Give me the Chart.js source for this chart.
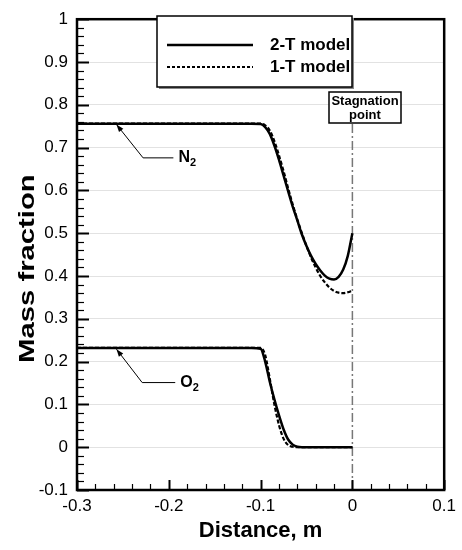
<!DOCTYPE html>
<html>
<head>
<meta charset="utf-8">
<script src="https://cdn.jsdelivr.net/npm/chart.js@4/dist/chart.umd.min.js"></script>
<style>
  html, body { margin: 0; padding: 0; background: #fff; }
  #wrap { width: 462px; height: 550px; }
</style>
</head>
<body>
<div id="wrap"><canvas id="grafico" width="462" height="550"></canvas></div>
<script>
// valores
const distance = [-0.3, -0.11, -0.1, -0.095, -0.09, -0.085, -0.08, -0.075, -0.07, -0.065, -0.06, -0.055,
                  -0.05, -0.045, -0.04, -0.035, -0.03, -0.025, -0.02, -0.015, -0.01, -0.005, 0];
const n2TwoT = [0.756, 0.756, 0.755, 0.748, 0.732, 0.705, 0.672, 0.635, 0.598, 0.562, 0.53, 0.497,
                0.47, 0.447, 0.428, 0.413, 0.401, 0.394, 0.392, 0.398, 0.415, 0.447, 0.5];
const n2OneT = [0.756, 0.756, 0.756, 0.752, 0.74, 0.715, 0.682, 0.645, 0.605, 0.567, 0.532, 0.5,
                0.47, 0.443, 0.42, 0.4, 0.385, 0.373, 0.365, 0.361, 0.36, 0.362, 0.366];
const o2TwoT = [0.232, 0.232, 0.23, 0.2, 0.153, 0.112, 0.075, 0.042, 0.018, 0.006, 0.001, 0,
                0, 0, 0, 0, 0, 0, 0, 0, 0, 0, 0];
const o2OneT = [0.232, 0.232, 0.232, 0.215, 0.16, 0.1, 0.052, 0.02, 0.005, 0.001, 0, 0,
                0, 0, 0, 0, 0, 0, 0, 0, 0, 0, 0];

const seriesNames = ["2-T model", "1-T model"];
const xRange = [-0.3, 0.1];
const yRange = [-0.1, 1];
const stagnationX = 0;

const FONT = "'Liberation Sans', Arial, sans-serif";

const pts = arr => arr.map((v, i) => ({ x: distance[i], y: v }));

const solid = { borderColor: "#000", borderWidth: 2.5, pointRadius: 0, cubicInterpolationMode: "monotone", fill: false };
const dotted = { borderColor: "#000", borderWidth: 2.2, borderDash: [4, 2], pointRadius: 0, cubicInterpolationMode: "monotone", fill: false };

const fmt = v => String(Number(Number(v).toFixed(2)));

const extras = {
    id: "extras",
    beforeDatasetsDraw(chart) {
        const { ctx, scales: { x }, chartArea: a } = chart;
        const px = x.getPixelForValue(stagnationX);
        ctx.save();
        ctx.strokeStyle = "#777";
        ctx.lineWidth = 1.5;
        ctx.setLineDash([9, 3, 2, 3]);
        ctx.beginPath();
        ctx.moveTo(px, 124);
        ctx.lineTo(px, a.bottom);
        ctx.stroke();
        ctx.restore();
    },
    afterDraw(chart) {
        const { ctx, scales: { x, y }, chartArea: a } = chart;
        ctx.save();

        // titulo do eixo y (esticado como na figura)
        ctx.save();
        ctx.translate(28, (a.top + a.bottom) / 2 + 14);
        ctx.rotate(-Math.PI / 2);
        ctx.scale(1.33, 1);
        ctx.fillStyle = "#000";
        ctx.font = "bold 22px " + FONT;
        ctx.textAlign = "center";
        ctx.textBaseline = "middle";
        ctx.fillText("Mass fraction", 0, 0);
        ctx.restore();

        // ticks internos
        ctx.strokeStyle = "#000";
        for (let i = 0; i <= 55; i++) {
            const v = yRange[0] + i * 0.02;
            const py = Math.round(y.getPixelForValue(v)) + 0.5;
            const major = i % 5 === 0;
            ctx.lineWidth = major ? 2 : 1.2;
            ctx.beginPath();
            ctx.moveTo(a.left, py);
            ctx.lineTo(a.left + (major ? 12 : 7), py);
            ctx.stroke();
        }
        for (let i = 0; i <= 20; i++) {
            const v = xRange[0] + i * 0.02;
            const px = Math.round(x.getPixelForValue(v)) + 0.5;
            const major = i % 5 === 0;
            ctx.lineWidth = major ? 2 : 1.2;
            ctx.beginPath();
            ctx.moveTo(px, a.bottom);
            ctx.lineTo(px, a.bottom - (major ? 10 : 6));
            ctx.stroke();
        }

        // moldura
        ctx.lineWidth = 2.5;
        ctx.strokeRect(a.left, a.top, a.right - a.left, a.bottom - a.top);

        // legenda
        ctx.fillStyle = "#888";
        ctx.fillRect(159, 18, 195, 71);
        ctx.fillStyle = "#fff";
        ctx.fillRect(157, 16, 195, 71);
        ctx.lineWidth = 1.5;
        ctx.strokeStyle = "#000";
        ctx.strokeRect(157, 16, 195, 71);
        ctx.lineWidth = 2.5;
        ctx.beginPath(); ctx.moveTo(167, 45); ctx.lineTo(253, 45); ctx.stroke();
        ctx.lineWidth = 2;
        ctx.setLineDash([3, 2]);
        ctx.beginPath(); ctx.moveTo(167, 67); ctx.lineTo(253, 67); ctx.stroke();
        ctx.setLineDash([]);
        ctx.fillStyle = "#000";
        ctx.font = "bold 17px " + FONT;
        ctx.textBaseline = "middle";
        ctx.textAlign = "left";
        ctx.fillText(seriesNames[0], 270, 45);
        ctx.fillText(seriesNames[1], 270, 67);

        // caixa "Stagnation point"
        ctx.fillStyle = "#fff";
        ctx.fillRect(329, 92, 72, 31);
        ctx.lineWidth = 1.5;
        ctx.strokeRect(329, 92, 72, 31);
        ctx.fillStyle = "#000";
        ctx.font = "bold 13px " + FONT;
        ctx.textAlign = "center";
        ctx.fillText("Stagnation", 365, 101);
        ctx.fillText("point", 365, 115);

        // setas N2 / O2
        const arrow = (tip, elbow, endX, label) => {
            const tx = x.getPixelForValue(tip[0]), ty = y.getPixelForValue(tip[1]);
            const ex = x.getPixelForValue(elbow[0]), ey = y.getPixelForValue(elbow[1]);
            const fx = x.getPixelForValue(endX);
            ctx.strokeStyle = "#000";
            ctx.lineWidth = 1;
            ctx.beginPath();
            ctx.moveTo(tx, ty); ctx.lineTo(ex, ey); ctx.lineTo(fx, ey);
            ctx.stroke();
            const ang = Math.atan2(ty - ey, tx - ex);
            ctx.beginPath();
            ctx.moveTo(tx, ty);
            ctx.lineTo(tx - 8 * Math.cos(ang - 0.35), ty - 8 * Math.sin(ang - 0.35));
            ctx.lineTo(tx - 8 * Math.cos(ang + 0.35), ty - 8 * Math.sin(ang + 0.35));
            ctx.closePath();
            ctx.fillStyle = "#000";
            ctx.fill();
            ctx.textAlign = "left";
            ctx.textBaseline = "middle";
            ctx.font = "bold 16px " + FONT;
            ctx.fillText(label, fx + 5, ey);
            const w = ctx.measureText(label).width;
            ctx.font = "bold 11px " + FONT;
            ctx.fillText("2", fx + 5 + w, ey + 5);
        };
        arrow([-0.257, 0.754], [-0.228, 0.676], -0.195, "N");
        arrow([-0.257, 0.229], [-0.229, 0.151], -0.193, "O");

        ctx.restore();
    }
};

new Chart(document.getElementById("grafico").getContext("2d"), {
    type: "line",
    data: {
        datasets: [
            { label: seriesNames[0] + " N2", data: pts(n2TwoT), ...solid },
            { label: seriesNames[1] + " N2", data: pts(n2OneT), ...dotted },
            { label: seriesNames[0] + " O2", data: pts(o2TwoT), ...solid },
            { label: seriesNames[1] + " O2", data: pts(o2OneT), ...dotted }
        ]
    },
    options: {
        responsive: false,
        animation: false,
        events: [],
        layout: { padding: { top: 12, right: 11, left: 14, bottom: 6 } },
        plugins: { legend: { display: false }, tooltip: { enabled: false } },
        scales: {
            x: {
                type: "linear",
                min: xRange[0], max: xRange[1],
                afterFit: s => { s.height = 54; },
                ticks: { stepSize: 0.1, color: "#000", padding: 6, font: { family: FONT, size: 17 }, callback: fmt, maxRotation: 0 },
                grid: { display: false, drawTicks: false },
                border: { display: false },
                title: { display: true, text: "Distance, m", color: "#000", font: { family: FONT, size: 22, weight: "bold" }, padding: { top: 6, bottom: 0 } }
            },
            y: {
                min: yRange[0], max: yRange[1],
                afterFit: s => { s.width = 63; },
                ticks: { stepSize: 0.1, color: "#000", padding: 9, font: { family: FONT, size: 17 }, callback: fmt },
                grid: { color: "#e2e2e2", lineWidth: 1, drawTicks: false },
                border: { display: false }
            }
        }
    },
    plugins: [extras]
});
</script>
</body>
</html>
